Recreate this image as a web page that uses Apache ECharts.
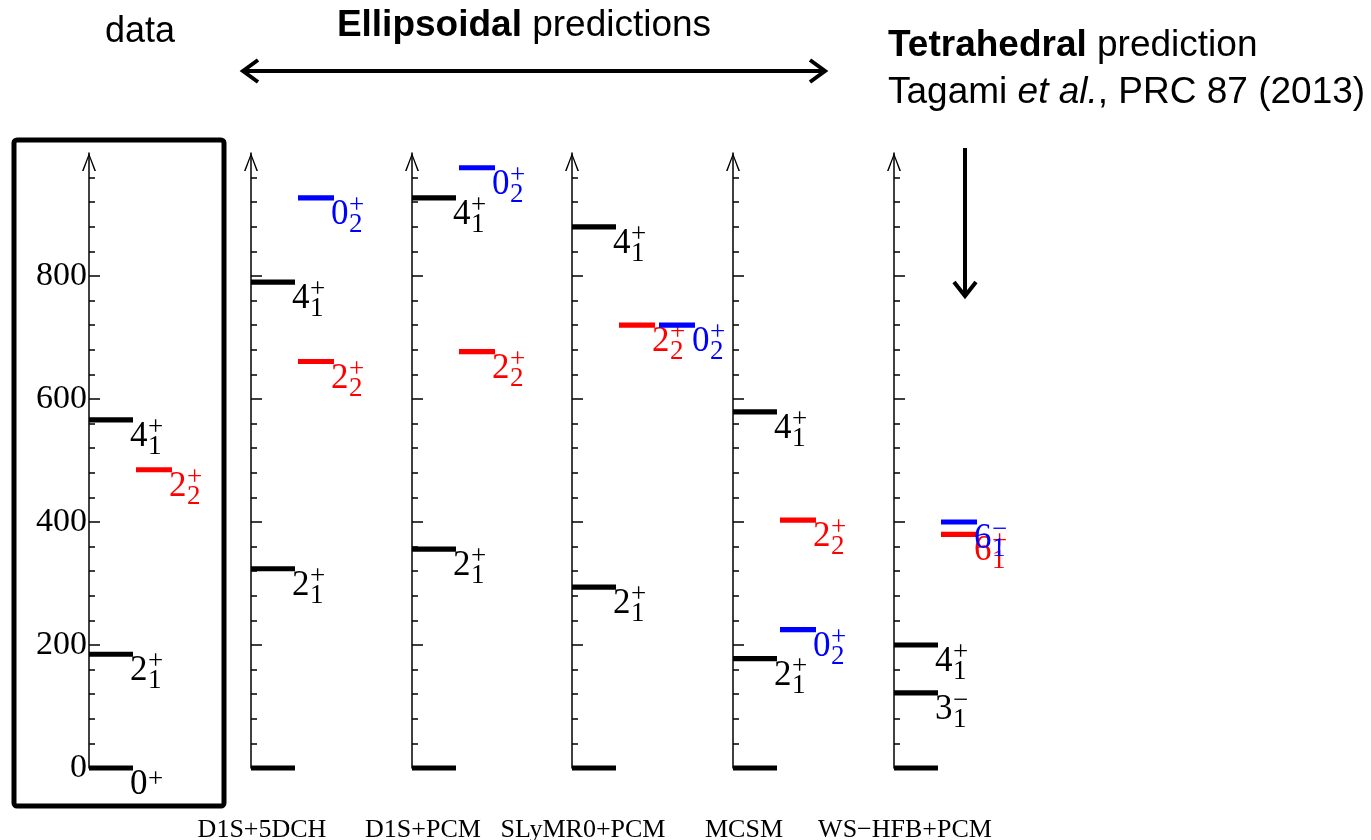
<!DOCTYPE html>
<html>
<head>
<meta charset="utf-8">
<script src="https://cdn.jsdelivr.net/npm/echarts@6/dist/echarts.min.js"></script>
<style>
  html, body { margin: 0; padding: 0; background: #fff; }
  #chart { width: 1371px; height: 840px; }
</style>
</head>
<body>
<div id="chart"></div>
<script>
// ---------------- DATA ----------------
const categories = ['data', 'D1S+5DCH', 'D1S+PCM', 'SLyMR0+PCM', 'MCSM', 'WS\u2212HFB+PCM'];
// level energies (keV) per column; null = level not shown
const E_0p1 = [0, 0, 0, 0, 0, 0];
const E_2p1 = [185, 324, 356, 294, 178, null];
const E_4p1 = [566, 790, 927, 880, 579, 200];
const E_2p2 = [485, 661, 677, 720, 403, null];
const E_0p2 = [null, 927, 976, 720, 225, null];
const E_3m1 = [null, null, null, null, null, 122];
const E_6m1 = [null, null, null, null, null, 400];
const E_6p1 = [null, null, null, null, null, 380];
const majorTicks = [0, 200, 400, 600, 800];
const minorTicks = [40, 80, 120, 160, 240, 280, 320, 360, 440, 480, 520, 560, 640, 680, 720, 760, 840, 880, 920, 960];

// level kinds: label pieces + colour group
const kinds = [
  { E: E_0p1, main: '0', sub: '',  sup: '+',      group: 'black', labelOnlyData: true },
  { E: E_2p1, main: '2', sub: '1', sup: '+',      group: 'black' },
  { E: E_4p1, main: '4', sub: '1', sup: '+',      group: 'black' },
  { E: E_3m1, main: '3', sub: '1', sup: '\u2212', group: 'black' },
  { E: E_6p1, main: '6', sub: '1', sup: '+',      group: 'red' },
  { E: E_2p2, main: '2', sub: '2', sup: '+',      group: 'red' },
  { E: E_6m1, main: '6', sub: '1', sup: '\u2212', group: 'blue' },
  { E: E_0p2, main: '0', sub: '2', sup: '+',      group: 'blue' }
];

// ---------------- STYLE / LAYOUT ----------------
const COLORS = { black: '#000000', red: '#ff0000', blue: '#0000ff' };
const axisLeft = [89, 251, 412, 572, 733, 894];
const GRID_TOP = 153, GRID_H = 615;
const SERIF = '"Liberation Serif", "Times New Roman", serif';
const SANS = '"Liberation Sans", Arial, sans-serif';

// build per-column level lists (slot 0 = black, slot 1/2 = coloured)
const levelsByCol = categories.map(function (c, col) {
  const list = [];
  kinds.forEach(function (k) {
    const e = k.E[col];
    if (e === null || e === undefined) return;
    let slot = 0;
    if (k.group !== 'black') {
      slot = 1;
      const clash = list.some(function (l) { return l.slot === 1 && Math.abs(l.E - e) < 10; });
      if (clash) slot = 2;
    }
    list.push({
      E: e, slot: slot, group: k.group, main: k.main, sub: k.sub, sup: k.sup,
      showLabel: !(k.labelOnlyData && col !== 0)
    });
  });
  return list;
});

function makeRender(col) {
  return function (params, api) {
    const lv = levelsByCol[col][params.dataIndex];
    const p = api.coord([0, lv.E]);
    const color = COLORS[lv.group];
    const x0 = p[0] + (lv.slot === 0 ? 0 : (lv.slot === 1 ? 47 : 87));
    const w = lv.slot === 0 ? 44 : 36;
    const y = p[1];
    const children = [{
      type: 'rect',
      shape: { x: x0, y: y - 2.6, width: w, height: 5.2 },
      style: { fill: color }
    }];
    if (lv.showLabel) {
      const lx = x0 + w - 3;
      const ly = y + 17;
      children.push({ type: 'text', style: { text: lv.main, x: lx, y: ly, font: '35px ' + SERIF, fill: color, align: 'left', verticalAlign: 'middle' } });
      if (lv.sup) children.push({ type: 'text', style: { text: lv.sup, x: lx + 18, y: ly - (lv.sub ? 9 : 5), font: '27px ' + SERIF, fill: color, align: 'left', verticalAlign: 'middle' } });
      if (lv.sub) children.push({ type: 'text', style: { text: lv.sub, x: lx + 18, y: ly + 10, font: '27px ' + SERIF, fill: color, align: 'left', verticalAlign: 'middle' } });
    }
    return { type: 'group', children: children };
  };
}

const grids = [], xAxes = [], yAxes = [], series = [];
categories.forEach(function (cat, i) {
  grids.push({ left: axisLeft[i], top: GRID_TOP, width: 22, height: GRID_H, containLabel: false, outerBoundsMode: 'none' });
  xAxes.push({
    gridIndex: i, type: 'value', min: 0, max: 1,
    axisLine: { show: false }, axisTick: { show: false }, axisLabel: { show: false }, splitLine: { show: false },
    name: i === 0 ? '' : cat, nameLocation: 'middle', nameGap: 49,
    nameTextStyle: { fontFamily: SERIF, fontSize: 26, color: '#000' }
  });
  // axis with minor ticks, arrow and labels
  yAxes.push({
    gridIndex: i, type: 'value', min: 0, max: 1000, position: 'left',
    axisLine: {
      show: true, onZero: false,
      lineStyle: { color: '#000', width: 1.5 },
      symbol: ['none', 'path://M0,18 L7,0 L14,18 L12.4,18 L7,3.2 L1.6,18 Z'],
      symbolSize: [14, 18], symbolOffset: [0, -9]
    },
    axisTick: { show: true, inside: true, length: 6, customValues: minorTicks, lineStyle: { color: '#000', width: 1.5 } },
    axisLabel: { show: i === 0, customValues: majorTicks, margin: 2, color: '#000', fontFamily: SERIF, fontSize: 34 },
    splitLine: { show: false }
  });
  // overlay axis with major ticks
  yAxes.push({
    gridIndex: i, type: 'value', min: 0, max: 1000, position: 'left',
    axisLine: { show: false, onZero: false },
    axisTick: { show: true, inside: true, length: 11, customValues: majorTicks, lineStyle: { color: '#000', width: 1.5 } },
    axisLabel: { show: false },
    splitLine: { show: false }
  });
  series.push({
    type: 'custom', xAxisIndex: i, yAxisIndex: 2 * i, clip: false,
    renderItem: makeRender(i),
    data: levelsByCol[i].map(function (l) { return [0, l.E]; }),
    silent: true, animation: false
  });
});

const chart = echarts.init(document.getElementById('chart'), null, { renderer: 'canvas' });
chart.setOption({
  animation: false,
  backgroundColor: '#ffffff',
  grid: grids, xAxis: xAxes, yAxis: yAxes, series: series,
  graphic: [
    { type: 'rect', shape: { x: 14, y: 140, width: 210, height: 666, r: 3 }, style: { fill: 'none', stroke: '#000', lineWidth: 5 }, z: 100 },
    { type: 'text', style: { text: 'data', x: 140, y: 32, font: '36px ' + SANS, fill: '#000', align: 'center', verticalAlign: 'middle' } },
    { type: 'text', style: { text: '{b|Ellipsoidal} predictions', x: 524, y: 26, align: 'center', verticalAlign: 'middle', fill: '#000', font: '37px ' + SANS,
        rich: { b: { fontWeight: 'bold', fontSize: 37, fontFamily: SANS, fill: '#000' } } } },
    { type: 'line', shape: { x1: 244, y1: 71, x2: 824, y2: 71 }, style: { stroke: '#000', lineWidth: 4 } },
    { type: 'polyline', shape: { points: [[258, 60], [243, 71], [258, 82]] }, style: { stroke: '#000', lineWidth: 4, fill: 'none', lineJoin: 'miter' } },
    { type: 'polyline', shape: { points: [[810, 60], [825, 71], [810, 82]] }, style: { stroke: '#000', lineWidth: 4, fill: 'none', lineJoin: 'miter' } },
    { type: 'text', style: { text: '{b|Tetrahedral} prediction', x: 888, y: 46, align: 'left', verticalAlign: 'middle', fill: '#000', font: '37px ' + SANS,
        rich: { b: { fontWeight: 'bold', fontSize: 37, fontFamily: SANS, fill: '#000' } } } },
    { type: 'text', style: { text: 'Tagami {i|et al.}, PRC 87 (2013)', x: 888, y: 93, align: 'left', verticalAlign: 'middle', fill: '#000', font: '37px ' + SANS,
        rich: { i: { fontStyle: 'italic', fontSize: 37, fontFamily: SANS, fill: '#000' } } } },
    { type: 'line', shape: { x1: 965, y1: 148, x2: 965, y2: 294 }, style: { stroke: '#000', lineWidth: 4 } },
    { type: 'polyline', shape: { points: [[954, 282], [965, 296], [976, 282]] }, style: { stroke: '#000', lineWidth: 4, fill: 'none', lineJoin: 'miter' } }
  ]
});
</script>
</body>
</html>
